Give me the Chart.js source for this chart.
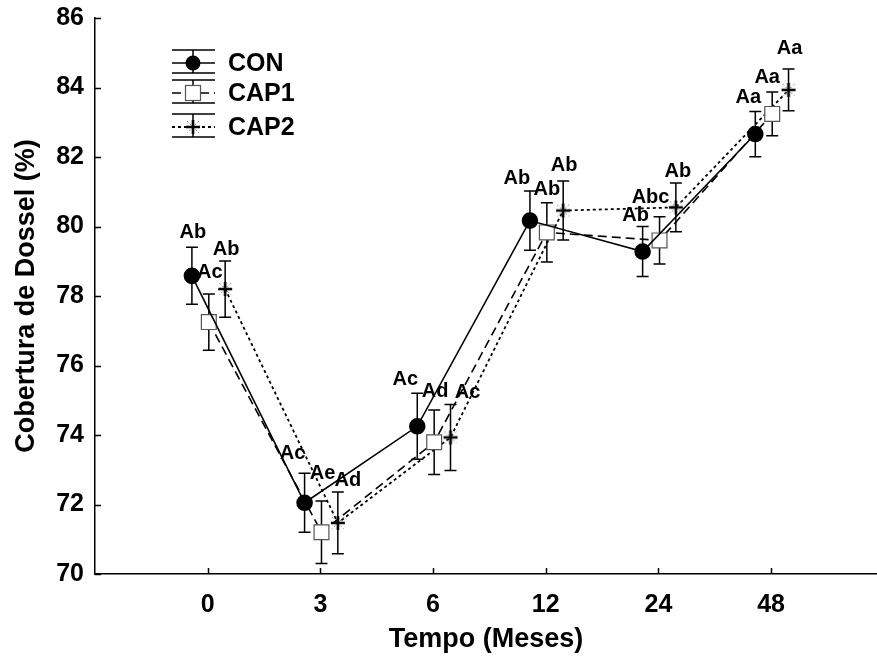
<!DOCTYPE html>
<html>
<head>
<meta charset="utf-8">
<script src="https://cdn.jsdelivr.net/npm/chart.js@4.4.1/dist/chart.umd.min.js"></script>
<style>
  body { margin: 0; background: #fff; }
  canvas { display: block; }
</style>
</head>
<body>
<canvas id="myChart" width="877" height="657"></canvas>
<script>
// months after treatment
const categories = ["0", "3", "6", "12", "24", "48"];

const conMeans = [78.58, 72.05, 74.25, 80.17, 79.28, 82.66];
const conErr = [0.82, 0.85, 0.95, 0.85, 0.72, 0.65];
const cap1Means = [77.25, 71.2, 73.79, 79.83, 79.6, 83.24];
const cap1Err = [0.81, 0.9, 0.93, 0.85, 0.68, 0.63];
const cap2Means = [78.2, 71.47, 73.93, 80.46, 80.55, 83.93];
const cap2Err = [0.81, 0.89, 0.95, 0.85, 0.7, 0.6];

// significance letters
const conLetters = ["Ab", "Ac", "Ac", "Ab", "Ab", "Aa"];
const cap1Letters = ["Ac", "Ae", "Ad", "Ab", "Abc", "Aa"];
const cap2Letters = ["Ab", "Ad", "Ac", "Ab", "Ab", "Aa"];

// letter placement relative to the top of each error bar (px)
const conLetterPos = [[1, -15], [-12, -20], [-12, -14], [-13, -13], [-7, -11], [-7, -14]];
const cap1LetterPos = [[1, -21], [1, -28], [1, -18], [0, -13], [-9, -19], [-5, -15]];
const cap2LetterPos = [[1, -11], [10, -12], [17, -12], [1, -15], [2, -12], [1, -21]];

const FONT = "'Liberation Sans', Arial, Helvetica, sans-serif";
Chart.defaults.font.family = FONT;
Chart.defaults.color = "#000";

const makeStar = () => {
    const c = document.createElement("canvas");
    c.width = 18;
    c.height = 18;
    const g = c.getContext("2d");
    g.strokeStyle = "#888";
    g.lineWidth = 1;
    g.setLineDash([2, 2]);
    g.beginPath();
    g.moveTo(3, 3); g.lineTo(15, 15);
    g.moveTo(15, 3); g.lineTo(3, 15);
    g.stroke();
    g.setLineDash([]);
    g.strokeStyle = "#000";
    g.lineWidth = 2.6;
    g.beginPath();
    g.moveTo(2, 9); g.lineTo(16, 9);
    g.moveTo(9, 2); g.lineTo(9, 16);
    g.stroke();
    return c;
};
const starImg = makeStar();

const toPoints = (values, shift) => values.map((v, i) => ({ x: i + shift, y: v }));

const series = [
    {
        label: "CON",
        data: toPoints(conMeans, -0.14),
        errors: conErr,
        letters: conLetters,
        letterPos: conLetterPos,
        borderColor: "#000",
        backgroundColor: "#000",
        borderWidth: 1.6,
        borderDash: [],
        pointStyle: "circle",
        pointRadius: 7.5,
        pointBorderColor: "#000",
        pointBackgroundColor: "#000",
    },
    {
        label: "CAP1",
        data: toPoints(cap1Means, 0.01),
        errors: cap1Err,
        letters: cap1Letters,
        letterPos: cap1LetterPos,
        borderColor: "#000",
        backgroundColor: "#fff",
        borderWidth: 1.6,
        borderDash: [9, 5],
        pointStyle: "rect",
        pointRadius: 10.5,
        pointBorderColor: "#555",
        pointBorderWidth: 1.2,
        pointBackgroundColor: "#fff",
    },
    {
        label: "CAP2",
        data: toPoints(cap2Means, 0.155),
        errors: cap2Err,
        letters: cap2Letters,
        letterPos: cap2LetterPos,
        borderColor: "#000",
        backgroundColor: "#000",
        borderWidth: 1.8,
        borderDash: [3, 3],
        pointStyle: starImg,
        pointRadius: 9,
    },
];

const errorBars = {
    id: "errorBars",
    beforeDatasetsDraw(chart) {
        const ctx = chart.ctx;
        const y = chart.scales.y;
        ctx.save();
        ctx.strokeStyle = "#000";
        ctx.lineWidth = 1.5;
        chart.data.datasets.forEach((ds, i) => {
            chart.getDatasetMeta(i).data.forEach((pt, j) => {
                const v = ds.data[j].y;
                const top = y.getPixelForValue(v + ds.errors[j]);
                const bot = y.getPixelForValue(v - ds.errors[j]);
                ctx.beginPath();
                ctx.moveTo(pt.x, top); ctx.lineTo(pt.x, bot);
                ctx.moveTo(pt.x - 6, top); ctx.lineTo(pt.x + 6, top);
                ctx.moveTo(pt.x - 6, bot); ctx.lineTo(pt.x + 6, bot);
                ctx.stroke();
            });
        });
        ctx.restore();
    },
    afterDatasetsDraw(chart) {
        const ctx = chart.ctx;
        const y = chart.scales.y;
        ctx.save();
        ctx.fillStyle = "#000";
        ctx.font = "bold 20px " + FONT;
        ctx.textAlign = "center";
        ctx.textBaseline = "middle";
        chart.data.datasets.forEach((ds, i) => {
            chart.getDatasetMeta(i).data.forEach((pt, j) => {
                const top = y.getPixelForValue(ds.data[j].y + ds.errors[j]);
                const [dx, dy] = ds.letterPos[j];
                ctx.fillText(ds.letters[j], pt.x + dx, top + dy);
            });
        });
        ctx.restore();
    },
};

// inward tick marks and the boxed legend
const axisExtras = {
    id: "axisExtras",
    afterDraw(chart) {
        const ctx = chart.ctx;
        const { left, bottom } = chart.chartArea;
        const xs = chart.scales.x;
        const ys = chart.scales.y;
        ctx.save();
        ctx.strokeStyle = "#000";
        ctx.lineWidth = 1.5;
        ctx.beginPath();
        ys.ticks.forEach((t) => {
            const py = Math.round(ys.getPixelForValue(t.value)) + 0.5;
            ctx.moveTo(left, py); ctx.lineTo(left + 6, py);
        });
        xs.ticks.forEach((t) => {
            const px = Math.round(xs.getPixelForValue(t.value)) + 0.5;
            ctx.moveTo(px, bottom); ctx.lineTo(px, bottom - 6);
        });
        ctx.stroke();

        const rows = [63, 93, 127];
        const x0 = 172, x1 = 215, cx = 193;
        chart.data.datasets.forEach((ds, i) => {
            const cy = rows[i];
            ctx.strokeStyle = "#000";
            ctx.lineWidth = 1.5;
            ctx.setLineDash([]);
            ctx.beginPath();
            ctx.moveTo(x0, cy - 13); ctx.lineTo(x1, cy - 13);
            ctx.moveTo(x0, cy + 10); ctx.lineTo(x1, cy + 10);
            ctx.moveTo(cx, cy - 13); ctx.lineTo(cx, cy + 10);
            ctx.stroke();
            ctx.lineWidth = ds.borderWidth;
            ctx.setLineDash(ds.borderDash);
            ctx.beginPath();
            ctx.moveTo(x0, cy); ctx.lineTo(x1, cy);
            ctx.stroke();
            ctx.setLineDash([]);
            if (i === 0) {
                ctx.fillStyle = "#000";
                ctx.beginPath();
                ctx.arc(cx, cy, 7.5, 0, Math.PI * 2);
                ctx.fill();
            } else if (i === 1) {
                ctx.fillStyle = "#fff";
                ctx.strokeStyle = "#555";
                ctx.lineWidth = 1.2;
                ctx.fillRect(cx - 7.5, cy - 7.5, 15, 15);
                ctx.strokeRect(cx - 7.5, cy - 7.5, 15, 15);
            } else {
                ctx.drawImage(starImg, cx - 9, cy - 9);
            }
            ctx.fillStyle = "#000";
            ctx.font = "bold 25px " + FONT;
            ctx.textAlign = "left";
            ctx.textBaseline = "middle";
            ctx.fillText(ds.label, 228, cy + 1);
        });
        ctx.restore();
    },
};

const ctx = document.getElementById("myChart");
const myChart = new Chart(ctx, {
    type: "line",
    data: { datasets: series },
    options: {
        responsive: false,
        animation: false,
        devicePixelRatio: 1,
        layout: { autoPadding: false, padding: { left: 0, right: 0, top: 16, bottom: 0 } },
        plugins: {
            legend: { display: false },
            tooltip: { enabled: false },
        },
        scales: {
            x: {
                type: "linear",
                min: -1,
                max: 5.94,
                afterBuildTicks: (scale) => {
                    scale.ticks = categories.map((c, i) => ({ value: i }));
                },
                afterFit: (scale) => {
                    scale.height = 83;
                },
                grid: { display: false },
                border: { display: true, color: "#000", width: 1.5 },
                ticks: {
                    autoSkip: false,
                    maxRotation: 0,
                    padding: 8,
                    font: { size: 25, weight: "bold" },
                    callback: (v) => categories[v],
                },
                title: {
                    display: true,
                    text: "Tempo (Meses)",
                    font: { size: 27, weight: "bold" },
                    padding: { top: 0, bottom: 1 },
                },
            },
            y: {
                min: 70,
                max: 86,
                afterFit: (scale) => {
                    scale.width = 95;
                },
                grid: { display: false },
                border: { display: true, color: "#000", width: 1.5 },
                ticks: {
                    stepSize: 2,
                    padding: 3,
                    font: { size: 25, weight: "bold" },
                },
                title: {
                    display: true,
                    text: "Cobertura de Dossel (%)",
                    font: { size: 27, weight: "bold" },
                    padding: { top: 10, bottom: 0 },
                },
            },
        },
    },
    plugins: [errorBars, axisExtras],
});
</script>
</body>
</html>
